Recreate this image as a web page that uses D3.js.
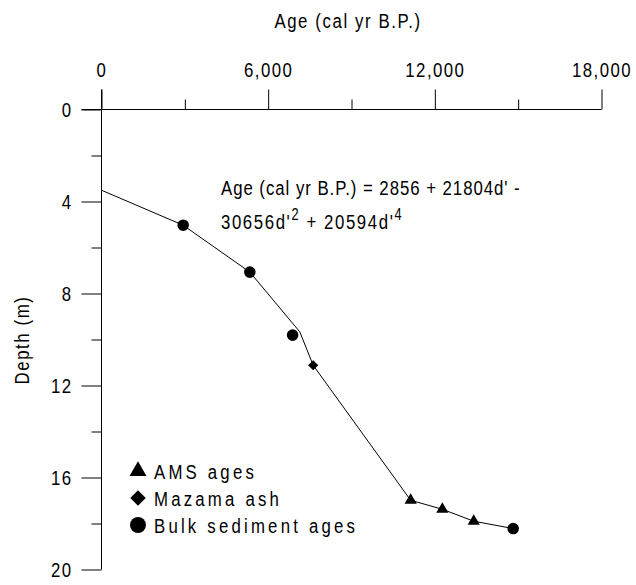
<!DOCTYPE html>
<html>
<head>
<meta charset="utf-8">
<script src="https://cdn.jsdelivr.net/npm/d3@7"></script>
<style>
  body { margin: 0; background: #fff; }
  text { font-family: "Liberation Sans", Arial, sans-serif; fill: #000; }
</style>
</head>
<body>
<script>
// age (cal yr B.P.) vs depth (m)
var bulkAges = [2940, 5340, 6880, 14820];
var bulkDepths = [5.03, 7.07, 9.81, 18.22];
var ashAges = [7620];
var ashDepths = [11.12];
var amsAges = [11130, 12270, 13400];
var amsDepths = [16.99, 17.38, 17.9];

// age-depth model line
var modelAges = [0, 2940, 5340, 7140, 7620, 11130, 12270, 13400, 14820];
var modelDepths = [3.51, 5.03, 7.07, 9.67, 11.12, 16.99, 17.38, 17.9, 18.22];

var ageTicks = [0, 6000, 12000, 18000];
var depthTicks = [0, 4, 8, 12, 16, 20];

var width = 636, height = 585;
var fs = "21px";
var sx = 0.8;   // squeeze the glyphs, the original uses a narrow face

// move x/y into a transform so the text can be squeezed horizontally
function condense(sel) {
  sel.each(function() {
    var t = d3.select(this);
    var tx = +t.attr("x") || 0, ty = +t.attr("y") || 0;
    var prev = t.attr("transform") || "";
    t.attr("x", null).attr("y", null)
      .attr("transform", prev + " translate(" + tx + "," + ty + ") scale(" + sx + ",1)");
  });
}

var x = d3.scaleLinear().domain([0, 18000]).range([101.5, 601.5]);
var y = d3.scaleLinear().domain([0, 20]).range([109.5, 569.5]);

var svg = d3.select("body").append("svg")
    .attr("width", width)
    .attr("height", height);

// top axis
var xAxis = d3.axisTop(x)
    .tickValues(d3.range(0, 18001, 3000))
    .tickSize(20)
    .tickSizeOuter(0)
    .tickFormat(function(d) { return ageTicks.indexOf(d) >= 0 ? d3.format(",")(d) : ""; });

var gx = svg.append("g")
    .attr("transform", "translate(0," + y(0) + ")")
    .call(xAxis);
gx.select(".domain").remove();
gx.selectAll(".tick line")
    .attr("y2", function(d) { return ageTicks.indexOf(d) >= 0 ? -20 : -10; });
gx.selectAll(".tick text")
    .attr("y", -33)
    .attr("dy", 0)
    .attr("font-family", null)
    .style("font-size", fs)
    .style("letter-spacing", "1.8px")
    .call(condense);
gx.append("line")
    .attr("x1", 81.5).attr("x2", x(18000))
    .attr("stroke", "#000");

// left axis
var yAxis = d3.axisLeft(y)
    .tickValues(d3.range(0, 20.1, 2))
    .tickSize(20)
    .tickSizeOuter(0)
    .tickFormat(function(d) { return depthTicks.indexOf(d) >= 0 ? d : ""; });

var gy = svg.append("g")
    .attr("transform", "translate(" + x(0) + ",0)")
    .call(yAxis);
gy.select(".domain").remove();
gy.selectAll(".tick line")
    .attr("x2", function(d) { return depthTicks.indexOf(d) >= 0 ? -20 : -10; });
gy.selectAll(".tick text")
    .attr("x", -29)
    .attr("font-family", null)
    .style("font-size", fs)
    .style("letter-spacing", "1.8px")
    .call(condense);
gy.append("line")
    .attr("y1", y(0) - 20).attr("y2", y(20))
    .attr("stroke", "#000");

// axis titles
svg.append("text")
    .attr("x", 348).attr("y", 28)
    .attr("text-anchor", "middle")
    .style("font-size", fs)
    .style("letter-spacing", "2px")
    .text("Age (cal yr B.P.)")
    .call(condense);

svg.append("text")
    .attr("transform", "translate(29,340) rotate(-90)")
    .attr("text-anchor", "middle")
    .style("font-size", fs)
    .style("letter-spacing", "2px")
    .text("Depth (m)")
    .call(condense);

// model line
var line = d3.line()
    .x(function(d, i) { return x(modelAges[i]); })
    .y(function(d, i) { return y(modelDepths[i]); });

svg.append("path")
    .datum(modelAges)
    .attr("d", line)
    .attr("fill", "none")
    .attr("stroke", "#000")
    .attr("stroke-width", 1);

// markers
var circle = d3.symbol().type(d3.symbolCircle).size(105);
var diamond = d3.symbol().type(d3.symbolSquare).size(52);
var triangle = d3.symbol().type(d3.symbolTriangle).size(65);

svg.selectAll(".bulk")
    .data(bulkAges)
    .enter().append("path")
    .attr("class", "bulk")
    .attr("d", circle)
    .attr("transform", function(d, i) { return "translate(" + x(d) + "," + y(bulkDepths[i]) + ")"; });

svg.selectAll(".ash")
    .data(ashAges)
    .enter().append("path")
    .attr("class", "ash")
    .attr("d", diamond)
    .attr("transform", function(d, i) { return "translate(" + x(d) + "," + y(ashDepths[i]) + ") rotate(45)"; });

svg.selectAll(".ams")
    .data(amsAges)
    .enter().append("path")
    .attr("class", "ams")
    .attr("d", triangle)
    .attr("transform", function(d, i) { return "translate(" + x(d) + "," + y(amsDepths[i]) + ")"; });

// equation
var eq = svg.append("g")
    .style("font-size", fs);
eq.append("text")
    .attr("x", 221).attr("y", 195)
    .style("letter-spacing", "1.2px")
    .text("Age (cal yr B.P.) = 2856 + 21804d' -")
    .call(condense);
var eq2 = eq.append("text")
    .attr("x", 221).attr("y", 229)
    .style("letter-spacing", "2px");
eq2.append("tspan").text("30656d'");
eq2.append("tspan").attr("dy", -9).style("font-size", "16px").text("2");
eq2.append("tspan").attr("dy", 9).text(" + 20594d'");
eq2.append("tspan").attr("dy", -9).style("font-size", "16px").text("4");
eq2.call(condense);

// legend
var legendLabels = ["AMS ages", "Mazama ash", "Bulk sediment ages"];
var legendSymbols = [
  d3.symbol().type(d3.symbolTriangle).size(125),
  d3.symbol().type(d3.symbolSquare).size(120),
  d3.symbol().type(d3.symbolCircle).size(200)
];
var legend = svg.append("g");
legendLabels.forEach(function(label, i) {
  var ly = 471 + i * 27;
  legend.append("path")
    .attr("d", legendSymbols[i])
    .attr("transform", "translate(138," + ly + ")" + (i === 1 ? " rotate(45)" : ""));
  legend.append("text")
    .attr("x", 154).attr("y", ly + 8)
    .style("font-size", fs)
    .style("letter-spacing", "4px")
    .text(label)
    .call(condense);
});
</script>
</body>
</html>
